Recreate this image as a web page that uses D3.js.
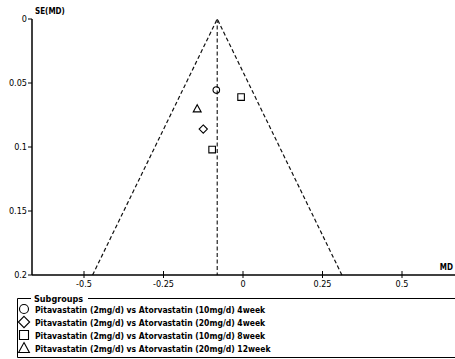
<!DOCTYPE html>
<html><head><meta charset="utf-8">
<script src="https://cdn.jsdelivr.net/npm/d3@7"></script>
<style>body{margin:0;background:#fff}svg{display:block}text{font-family:"DejaVu Sans Condensed","DejaVu Sans",sans-serif;}</style>
</head><body>
<svg id="c" width="455" height="359"></svg>
<script>
const subgroups = ["Pitavastatin (2mg/d) vs Atorvastatin (10mg/d) 4week","Pitavastatin (2mg/d) vs Atorvastatin (20mg/d) 4week","Pitavastatin (2mg/d) vs Atorvastatin (10mg/d) 8week","Pitavastatin (2mg/d) vs Atorvastatin (20mg/d) 12week"];
const symbols = ["circle","diamond","square","triangle"];
const pointGroup = [0, 2, 3, 1, 2];
const pointMD = [-0.084, -0.006, -0.144, -0.125, -0.097];
const pointSE = [0.0555, 0.061, 0.070, 0.086, 0.102];
const pooledMD = -0.081;
const xTicks = [-0.5, -0.25, 0, 0.25, 0.5];
const xTickLabels = ["-0.5","-0.25","0","0.25","0.5"];
const yTicks = [0, 0.05, 0.1, 0.15, 0.2];
const yTickLabels = ["0","0.05","0.1","0.15","0.2"];

const svg = d3.select("#c");
const x = d3.scaleLinear().domain([-0.5, 0.5]).range([84, 402]);
const y = d3.scaleLinear().domain([0, 0.2]).range([19, 275]);
const xEnd = 455;

// funnel
const seMax = 0.2;
svg.append("path")
  .attr("d", `M${x(pooledMD-1.96*seMax)},${y(seMax)}L${x(pooledMD)},${y(0)}L${x(pooledMD+1.96*seMax)},${y(seMax)}`)
  .attr("fill","none").attr("stroke","#111").attr("stroke-width",1.2).attr("stroke-dasharray","4,2.5");
svg.append("line").attr("x1",x(pooledMD)).attr("x2",x(pooledMD)).attr("y1",y(0)).attr("y2",y(seMax))
  .attr("stroke","#333").attr("stroke-width",1.3).attr("stroke-dasharray","4,2.5");

// y axis
svg.append("line").attr("x1",32).attr("x2",32).attr("y1",y(0)).attr("y2",y(0.2)).attr("stroke","#000").attr("stroke-width",1.5);
yTicks.forEach((t,i)=>{
  svg.append("line").attr("x1",28).attr("x2",32).attr("y1",y(t)).attr("y2",y(t)).attr("stroke","#000");
  svg.append("text").attr("x",27).attr("y",y(t)+3).attr("text-anchor","end").attr("font-size",9).attr("fill","#000").text(yTickLabels[i]);
});
svg.append("text").attr("x",35).attr("y",14).attr("font-size",8).attr("font-weight","bold").attr("fill","#000").text("SE(MD)");

// x axis
svg.append("line").attr("x1",32).attr("x2",xEnd).attr("y1",y(0.2)).attr("y2",y(0.2)).attr("stroke","#000").attr("stroke-width",1.5);
xTicks.forEach((t,i)=>{
  svg.append("line").attr("x1",x(t)).attr("x2",x(t)).attr("y1",y(0.2)-4).attr("y2",y(0.2)+3).attr("stroke","#000");
  svg.append("text").attr("x",x(t)).attr("y",y(0.2)+12).attr("text-anchor","middle").attr("font-size",9).attr("fill","#000").text(xTickLabels[i]);
});
svg.append("text").attr("x",453).attr("y",y(0.2)-5).attr("text-anchor","end").attr("font-size",8).attr("font-weight","bold").attr("fill","#000").text("MD");

// symbols
function sym(g, type, cx, cy, s){
  let d;
  if(type==="circle") d=`M${cx-s},${cy}a${s},${s} 0 1,0 ${2*s},0a${s},${s} 0 1,0 ${-2*s},0`;
  else if(type==="square") d=`M${cx-s},${cy-s}h${2*s}v${2*s}h${-2*s}Z`;
  else if(type==="diamond") d=`M${cx},${cy-s*1.25}L${cx+s*1.25},${cy}L${cx},${cy+s*1.25}L${cx-s*1.25},${cy}Z`;
  else d=`M${cx},${cy-s*1.2}L${cx+s*1.2},${cy+s}L${cx-s*1.2},${cy+s}Z`;
  g.append("path").attr("d",d).attr("fill","none").attr("stroke","#000").attr("stroke-width",1.1);
}
pointMD.forEach((m,i)=> sym(svg, symbols[pointGroup[i]], x(m), y(pointSE[i]), 3.3));

// legend
const lg = svg.append("g");
lg.append("path").attr("d","M31,298.5H17.5V357.5H455").attr("fill","none").attr("stroke","#000");
lg.append("line").attr("x1",88).attr("x2",455).attr("y1",298.5).attr("y2",298.5).attr("stroke","#000");
lg.append("text").attr("x",34).attr("y",302).attr("font-size",9).attr("font-weight","bold").text("Subgroups");
subgroups.forEach((s,i)=>{
  const cy = 309 + i*13;
  sym(lg, symbols[i], 24, cy, 4.5);
  lg.append("text").attr("x",35).attr("y",cy+3.5).attr("font-size",8.5).attr("font-weight","bold").text(s);
});
</script>
</body></html>
